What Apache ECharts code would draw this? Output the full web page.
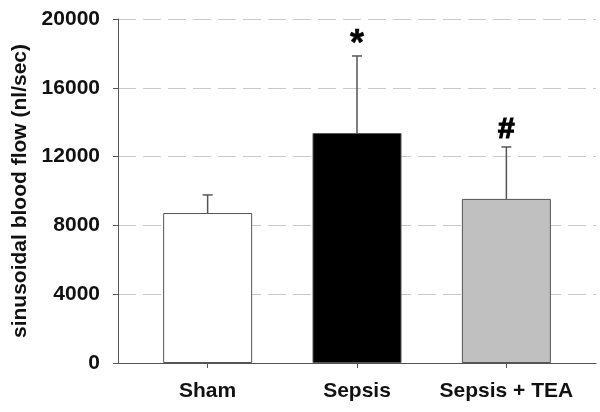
<!DOCTYPE html>
<html>
<head>
<meta charset="utf-8">
<script src="https://cdn.jsdelivr.net/npm/echarts@6/dist/echarts.min.js"></script>
<style>html,body{margin:0;padding:0;background:#fff}#c{width:600px;height:412px}</style>
</head>
<body>
<div id="c"></div>
<script>
const categories = ['Sham', 'Sepsis', 'Sepsis + TEA'];
const means = [8720, 13370, 9540];
const errUpper = [9770, 17850, 12560];
const marks = ['', '*', '#'];
const barColors = ['#ffffff', '#000000', '#c0c0c0'];
const yTicks = [0, 4000, 8000, 12000, 16000, 20000];

const FONT = 'Liberation Sans, Arial, sans-serif';
const chart = echarts.init(document.getElementById('c'), null, {renderer: 'canvas'});

const barData = categories.map((c, i) => ({
  value: [i, means[i]],
  itemStyle: {color: barColors[i]}
}));
const errData = categories.map((c, i) => [i, means[i], errUpper[i], marks[i]]);

chart.setOption({
  animation: false,
  backgroundColor: '#fff',
  grid: {left: 118, right: 4, top: 19, bottom: 49, containLabel: false, outerBoundsMode: 'none'},
  xAxis: {
    type: 'value', min: -0.6, max: 2.6,
    splitLine: {show: false},
    axisLine: {show: true, onZero: false, lineStyle: {color: '#555', width: 1}},
    axisTick: {show: true, customValues: [0, 1, 2], length: 5, lineStyle: {color: '#555'}},
    axisLabel: {
      customValues: [0, 1, 2],
      formatter: v => categories[Math.round(v)],
      margin: 18, fontSize: 21, fontWeight: 'bold', color: '#111', fontFamily: FONT
    }
  },
  yAxis: {
    type: 'value', min: yTicks[0], max: yTicks[yTicks.length - 1], interval: 4000,
    name: 'sinusoidal blood flow (nl/sec)',
    nameLocation: 'middle', nameGap: 86,
    nameTextStyle: {fontSize: 21, fontWeight: 'bold', color: '#111', fontFamily: FONT},
    axisLine: {show: true, onZero: false, lineStyle: {color: '#555', width: 1}},
    axisTick: {show: true, length: 5, lineStyle: {color: '#555'}},
    axisLabel: {margin: 18, fontSize: 21, fontWeight: 'bold', color: '#111', fontFamily: FONT,
      formatter: v => String(v)},
    splitLine: {show: true, lineStyle: {color: '#c8c8c8', type: [18, 7], width: 1.2}}
  },
  series: [
    {
      type: 'bar',
      data: barData,
      barWidth: 89,
      itemStyle: {borderColor: '#555', borderWidth: 1},
      z: 2
    },
    {
      type: 'custom',
      data: errData,
      z: 3,
      renderItem: function (params, api) {
        const x = api.value(0);
        const base = api.coord([x, api.value(1)]);
        const top = api.coord([x, api.value(2)]);
        const mark = errData[params.dataIndex][3];
        const children = [
          {type: 'line', shape: {x1: base[0], y1: base[1], x2: top[0], y2: top[1]},
           style: {stroke: '#555', lineWidth: 1.5}},
          {type: 'line', shape: {x1: top[0] - 5, y1: top[1], x2: top[0] + 5, y2: top[1]},
           style: {stroke: '#555', lineWidth: 1.5}}
        ];
        if (mark) {
          const isStar = mark === '*';
          children.push({
            type: 'text',
            x: top[0], y: top[1] - (isStar ? 11 : 17),
            style: {
              text: mark, align: 'center', verticalAlign: 'middle',
              fontSize: isStar ? 36 : 30, fontWeight: 'bold', fill: '#000',
              stroke: '#000', lineWidth: isStar ? 0.5 : 1.2, fontFamily: FONT
            }
          });
        }
        return {type: 'group', children: children};
      }
    }
  ]
});
</script>
</body>
</html>
